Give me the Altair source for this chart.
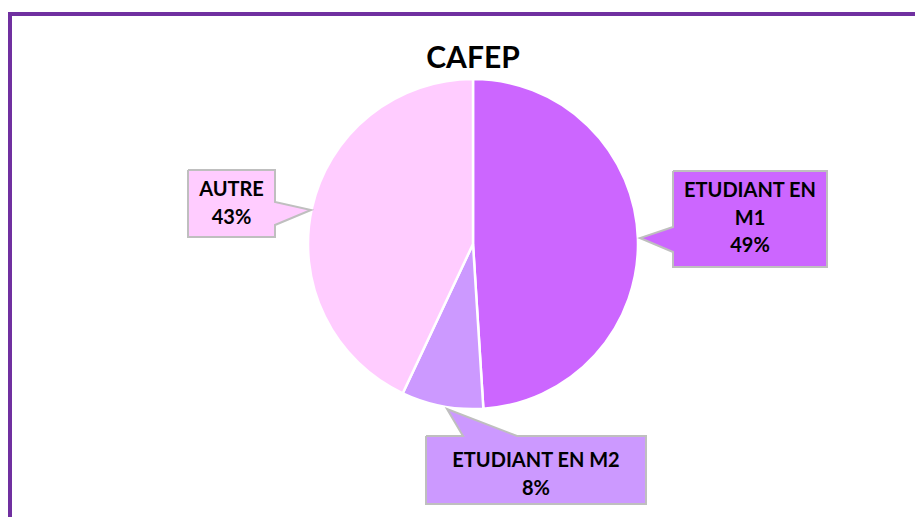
import altair as alt
import pandas as pd

# ---- data ----
categories = ["ETUDIANT EN M1", "ETUDIANT EN M2", "AUTRE"]
values = [49, 8, 43]
label_lines = [["ETUDIANT EN", "M1"], ["ETUDIANT EN M2"], ["AUTRE"]]
colors = ["#CC66FF", "#CC99FF", "#FFCCFF"]
title_text = "CAFEP"

# ---- layout (page pixels, shifted by the 8px page margin) ----
M = 8
W, H = 923 - 2 * M, 525 - 2 * M
CX, CY, R = 473 - M, 244 - M, 165
# callout outlines: box + pointer, in page pixels
callout_shapes = [
    [(673, 171), (827, 171), (827, 267), (673, 267), (673, 252), (640, 238), (673, 227)],
    [(426, 436), (463, 436), (447, 409), (517, 436), (646, 436), (646, 504), (426, 504)],
    [(188, 170), (275, 170), (275, 202), (311, 210), (275, 225), (275, 237), (188, 237)],
]
# centre x of the text block and y of its first line
text_anchor = [(750, 191), (536, 461), (231.5, 190)]

pie_df = pd.DataFrame({"cat": categories, "value": values, "order": list(range(len(categories)))})

rows = []
for cat, pts in zip(categories, callout_shapes):
    closed = pts + [pts[0]]
    for i, (px, py) in enumerate(closed):
        rows.append({"cat": cat, "i": i, "x": px - M, "y": py - M})
poly_df = pd.DataFrame(rows)

txt_rows = []
for cat, lines, v, (tx, ty) in zip(categories, label_lines, values, text_anchor):
    txt_rows.append({"cat": cat, "label": lines + [f"{v}%"], "x": tx - M, "y": ty - M})
txt_df = pd.DataFrame(txt_rows)

xs = alt.Scale(domain=[0, W], nice=False, zero=False)
ys = alt.Scale(domain=[0, H], nice=False, zero=False, reverse=True)
cscale = alt.Scale(domain=categories, range=colors)

frame = alt.Chart(pd.DataFrame({"k": [0]})).mark_rect(
    fill=None, stroke="#7030A0", strokeWidth=4
).encode(x=alt.value(2), x2=alt.value(W + 40), y=alt.value(6), y2=alt.value(H + 40))

pie = alt.Chart(pie_df).mark_arc(outerRadius=R, stroke="white", strokeWidth=2.5).encode(
    theta=alt.Theta("value:Q", stack=True),
    order=alt.Order("order:Q"),
    color=alt.Color("cat:N", scale=cscale, legend=None),
    x=alt.value(CX),
    y=alt.value(CY),
)

callouts = alt.Chart(poly_df).mark_line(stroke="#BFBFBF", strokeWidth=2, interpolate="linear").encode(
    x=alt.X("x:Q", scale=xs, axis=None),
    y=alt.Y("y:Q", scale=ys, axis=None),
    detail="cat:N",
    order=alt.Order("i:Q"),
    fill=alt.Fill("cat:N", scale=cscale, legend=None),
)

texts = alt.Chart(txt_df).mark_text(
    font="Lato", fontWeight="bold", fontSize=20, color="#000000",
    align="center", baseline="middle", lineHeight=27.5,
).encode(
    x=alt.X("x:Q", scale=xs, axis=None),
    y=alt.Y("y:Q", scale=ys, axis=None),
    text="label",
)

title = alt.Chart(pd.DataFrame({"t": [title_text]})).mark_text(
    font="Lato", fontWeight="bold", fontSize=30, color="#000000", align="center", baseline="alphabetic"
).encode(text="t:N", x=alt.value(CX), y=alt.value(68 - M))

chart = alt.layer(frame, pie, callouts, texts, title).properties(
    width=W, height=H, padding=0, autosize=alt.AutoSizeParams(type="none")
).configure_view(stroke=None).resolve_scale(color="independent")

chart.save("out.html", embed_options={"renderer": "svg", "actions": False})
